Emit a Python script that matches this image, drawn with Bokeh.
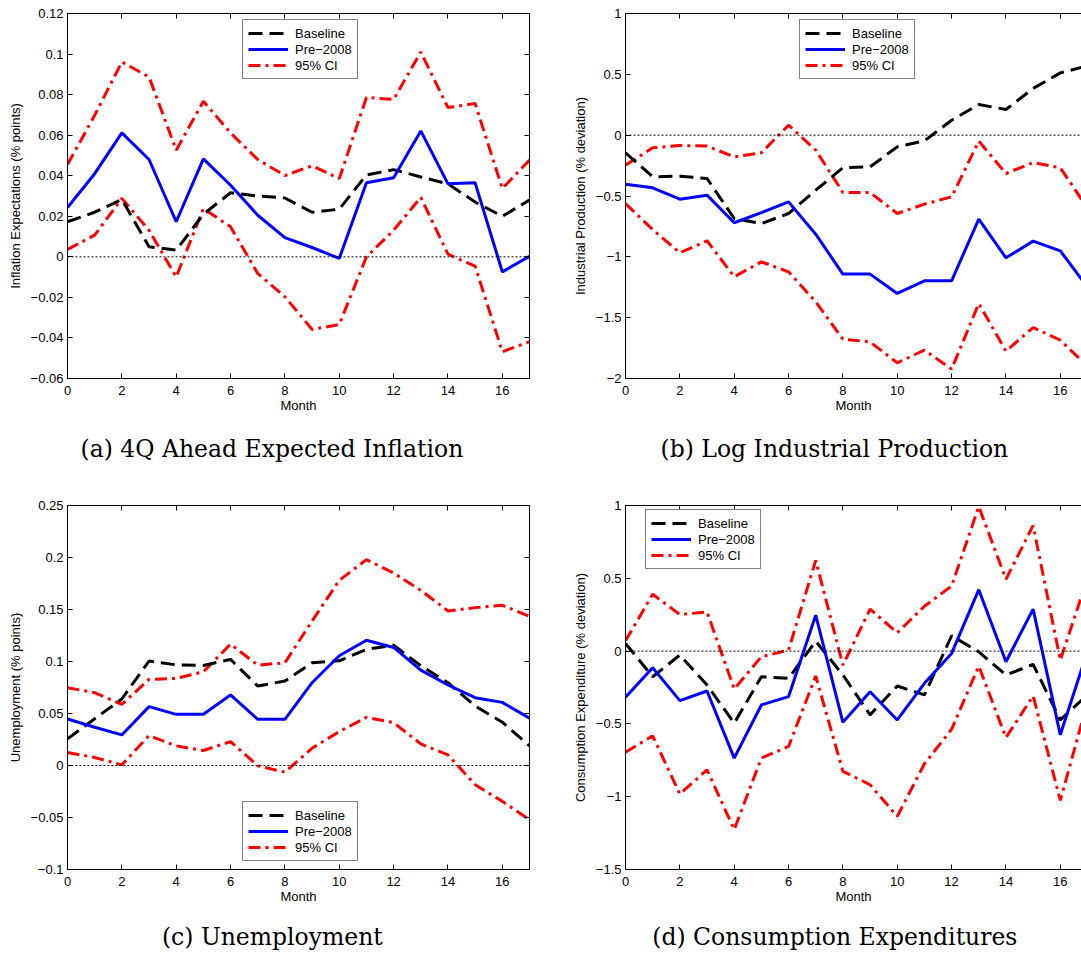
from bokeh.plotting import figure
from bokeh.models import Legend, LegendItem, Span, Title, LinearAxis, FixedTicker, Range1d
from bokeh.layouts import row, column
from bokeh.embed import file_html
from bokeh.resources import INLINE

months = list(range(18))
x_ticks = [0, 2, 4, 6, 8, 10, 12, 14, 16]

# (a) 4Q ahead expected inflation
infl_base = [0.0173, 0.022, 0.0283, 0.005, 0.0033, 0.021, 0.0316, 0.030, 0.029, 0.022,
             0.0235, 0.0404, 0.043, 0.0394, 0.036, 0.027, 0.020, 0.028]
infl_pre = [0.0243, 0.041, 0.0611, 0.048, 0.0173, 0.0483, 0.0353, 0.0205, 0.0095, 0.0046,
            -0.0008, 0.0365, 0.039, 0.0621, 0.036, 0.0365, -0.0074, 0.0003]
infl_hi = [0.0455, 0.0698, 0.0961, 0.0887, 0.0526, 0.0767, 0.0611, 0.048, 0.0401, 0.0449,
           0.0386, 0.0786, 0.0776, 0.101, 0.0736, 0.0756, 0.0337, 0.0477]
infl_lo = [0.0036, 0.0107, 0.0288, 0.0131, -0.0099, 0.0238, 0.0148, -0.0082, -0.0197, -0.0358,
           -0.0334, 0.0, 0.0131, 0.0293, 0.0013, -0.0046, -0.0468, -0.0419]
infl_yticks = [-0.06, -0.04, -0.02, 0, 0.02, 0.04, 0.06, 0.08, 0.1, 0.12]
infl_ylabels = ["\u22120.06", "\u22120.04", "\u22120.02", "0", "0.02", "0.04", "0.06", "0.08", "0.1", "0.12"]

# (b) log industrial production
ip_base = [-0.145, -0.342, -0.337, -0.356, -0.685, -0.726, -0.644, -0.452, -0.268, -0.26,
           -0.096, -0.047, 0.123, 0.252, 0.211, 0.384, 0.512, 0.57]
ip_pre = [-0.403, -0.433, -0.526, -0.493, -0.72, -0.636, -0.548, -0.814, -1.142, -1.142,
          -1.301, -1.197, -1.197, -0.69, -1.008, -0.871, -0.951, -1.25]
ip_hi = [-0.247, -0.104, -0.085, -0.09, -0.178, -0.145, 0.082, -0.123, -0.471, -0.471,
         -0.644, -0.567, -0.507, -0.049, -0.315, -0.225, -0.268, -0.6]
ip_lo = [-0.562, -0.775, -0.967, -0.868, -1.164, -1.041, -1.123, -1.37, -1.677, -1.699,
         -1.871, -1.767, -1.923, -1.384, -1.775, -1.581, -1.685, -1.9]
ip_yticks = [-2, -1.5, -1, -0.5, 0, 0.5, 1]
ip_ylabels = ["\u22122", "\u22121.5", "\u22121", "\u22120.5", "0", "0.5", "1"]

# (c) unemployment
un_base = [0.0256, 0.045, 0.064, 0.1004, 0.0968, 0.0962, 0.102, 0.0764, 0.0812, 0.0988,
           0.1007, 0.1116, 0.1157, 0.0959, 0.0796, 0.0572, 0.0416, 0.0189]
un_pre = [0.0447, 0.0368, 0.0294, 0.0566, 0.0492, 0.0492, 0.0678, 0.0444, 0.0444, 0.0796,
          0.1055, 0.1205, 0.1135, 0.0917, 0.0774, 0.0652, 0.0607, 0.0454]
un_hi = [0.0748, 0.070, 0.0588, 0.0828, 0.0837, 0.0901, 0.1167, 0.0965, 0.0988, 0.139,
         0.178, 0.198, 0.185, 0.1684, 0.1486, 0.1518, 0.154, 0.1435]
un_lo = [0.0125, 0.0077, 0.0006, 0.0288, 0.0189, 0.0144, 0.023, -0.0003, -0.0064, 0.0166,
         0.0326, 0.0463, 0.0412, 0.0208, 0.0102, -0.0185, -0.0345, -0.0521]
un_yticks = [-0.1, -0.05, 0, 0.05, 0.1, 0.15, 0.2, 0.25]
un_ylabels = ["\u22120.1", "\u22120.05", "0", "0.05", "0.1", "0.15", "0.2", "0.25"]

# (d) consumption expenditures
ce_base = [0.0525, -0.176, -0.027, -0.233, -0.495, -0.176, -0.187, 0.068, -0.164, -0.438,
           -0.240, -0.301, 0.105, -0.005, -0.164, -0.091, -0.473, -0.30]
ce_pre = [-0.317, -0.114, -0.340, -0.274, -0.735, -0.370, -0.313, 0.247, -0.489, -0.279,
          -0.473, -0.221, -0.016, 0.422, -0.073, 0.288, -0.575, 0.0]
ce_hi = [0.071, 0.390, 0.251, 0.269, -0.260, -0.039, 0.007, 0.623, -0.096, 0.288,
         0.126, 0.308, 0.447, 0.993, 0.493, 0.863, -0.062, 0.5]
ce_lo = [-0.694, -0.582, -0.982, -0.815, -1.226, -0.735, -0.655, -0.171, -0.826, -0.918,
         -1.135, -0.774, -0.537, -0.103, -0.594, -0.308, -1.025, -0.35]
ce_yticks = [-1.5, -1, -0.5, 0, 0.5, 1]
ce_ylabels = ["\u22121.5", "\u22121", "\u22120.5", "0", "0.5", "1"]

legend_labels = ["Baseline", "Pre\u22122008", "95% CI"]
captions = ["(a) 4Q Ahead Expected Inflation", "(b) Log Industrial Production",
            "(c) Unemployment", "(d) Consumption Expenditures"]

SANS = "Liberation Sans"
SERIF = "DejaVu Serif"
FS = "13px"
CAP_FS = "23.5px"
NBSP = "\u00a0"


def style_axis(ax, labels_visible=True):
    ax.axis_line_color = "black"
    ax.axis_line_width = 1
    ax.major_tick_line_color = "black"
    ax.major_tick_in = 5
    ax.major_tick_out = 0
    ax.minor_tick_in = 0
    ax.minor_tick_out = 0
    ax.minor_tick_line_color = None
    ax.major_label_text_font = SANS
    ax.axis_label_text_font = SANS
    ax.axis_label_text_font_size = FS
    ax.axis_label_text_font_style = "normal"
    ax.axis_label_text_color = "black"
    if labels_visible:
        ax.major_label_text_font_size = FS
        ax.major_label_text_color = "black"
    else:
        ax.major_label_text_font_size = "0px"
        ax.major_label_text_color = None
        ax.major_label_standoff = 0


def make_panel(width, height, mb_left, mb_right, mb_top, mb_bottom, x_end,
               yr, yticks, ylabels, ylabel, base, pre, hi, lo,
               leg_xy, right_axis=True):
    p = figure(width=width, height=height, output_backend="svg", toolbar_location=None,
               x_range=Range1d(0, x_end), y_range=Range1d(*yr),
               min_border_left=mb_left, min_border_right=mb_right,
               min_border_top=mb_top, min_border_bottom=mb_bottom,
               x_axis_label="Month", y_axis_label=ylabel)
    p.outline_line_color = None
    p.grid.visible = False
    p.background_fill_color = "white"
    p.border_fill_color = "white"

    xt = FixedTicker(ticks=x_ticks)
    yt = FixedTicker(ticks=yticks)
    overrides = {t: l for t, l in zip(yticks, ylabels)}

    p.xaxis.ticker = xt
    p.yaxis.ticker = yt
    p.yaxis.major_label_overrides = overrides
    for ax in p.xaxis:
        style_axis(ax)
        ax.major_label_standoff = 7
        ax.axis_label_standoff = 0
    for ax in p.yaxis:
        style_axis(ax)
        ax.major_label_standoff = 4
        ax.axis_label_standoff = 5

    top = LinearAxis(ticker=xt, axis_label=None)
    style_axis(top, labels_visible=False)
    p.add_layout(top, "above")
    if right_axis:
        rt = LinearAxis(ticker=yt, axis_label=None)
        style_axis(rt, labels_visible=False)
        p.add_layout(rt, "right")

    p.add_layout(Span(location=0, dimension="width", line_color="black",
                      line_width=1, line_dash="2 2"))

    r_hi = p.line(months, hi, line_color="#ff0000", line_width=3, line_dash="12 5 3 5")
    p.line(months, lo, line_color="#ff0000", line_width=3, line_dash="12 5 3 5")
    r_base = p.line(months, base, line_color="black", line_width=3, line_dash="14 7")
    r_pre = p.line(months, pre, line_color="#0000ff", line_width=3)

    legend = Legend(items=[LegendItem(label=legend_labels[0], renderers=[r_base]),
                           LegendItem(label=legend_labels[1], renderers=[r_pre]),
                           LegendItem(label=legend_labels[2], renderers=[r_hi])],
                    location=leg_xy)
    legend.border_line_color = "black"
    legend.border_line_width = 1
    legend.background_fill_color = "white"
    legend.background_fill_alpha = 1
    legend.label_text_font = SANS
    legend.label_text_font_size = FS
    legend.label_text_color = "black"
    legend.glyph_width = 40
    legend.glyph_height = 16
    legend.label_height = 16
    legend.label_standoff = 7
    legend.padding = 5
    legend.spacing = 0
    legend.margin = 0
    p.add_layout(legend, "center")
    return p


def caption_title(p, text, offset, standoff):
    p.add_layout(Title(text=text, align="left", offset=offset, standoff=standoff,
                       text_font=SERIF, text_font_size=CAP_FS, text_font_style="normal",
                       text_color="black"), "below")


def caption_axis(p, text, pad, standoff):
    cap = LinearAxis(ticker=FixedTicker(ticks=[]), axis_label=text + NBSP * pad)
    style_axis(cap, labels_visible=False)
    cap.axis_line_color = None
    cap.major_tick_line_color = None
    cap.major_tick_in = 0
    cap.axis_label_text_font = SERIF
    cap.axis_label_text_font_size = CAP_FS
    cap.axis_label_standoff = standoff
    p.add_layout(cap, "below")


pa = make_panel(540, 480, 67, 11, 13, 102, 17, (-0.06, 0.12), infl_yticks, infl_ylabels,
                "Inflation Expectations (% points)", infl_base, infl_pre, infl_hi, infl_lo,
                (175, 299))
caption_title(pa, captions[0], 13, 34)
pb = make_panel(541, 480, 85, 0, 13, 102, 16.78, (-2, 1), ip_yticks, ip_ylabels,
                "Industrial Production (% deviation)", ip_base, ip_pre, ip_hi, ip_lo,
                (174, 299), right_axis=False)
caption_title(pb, captions[1], 35, 34)
pc = make_panel(540, 473, 67, 11, 25, 83, 17, (-0.1, 0.25), un_yticks, un_ylabels,
                "Unemployment (% points)", un_base, un_pre, un_hi, un_lo,
                (175, 8))
caption_axis(pc, captions[2], 7, 16)
pd_ = make_panel(541, 473, 85, 0, 25, 83, 16.78, (-1.5, 1), ce_yticks, ce_ylabels,
                 "Consumption Expenditure (% deviation)", ce_base, ce_pre, ce_hi, ce_lo,
                 (20, 300), right_axis=False)
caption_axis(pd_, captions[3], 5, 16)

layout = column(row(pa, pb), row(pc, pd_))
open("out.html", "w").write(file_html(layout, INLINE))
